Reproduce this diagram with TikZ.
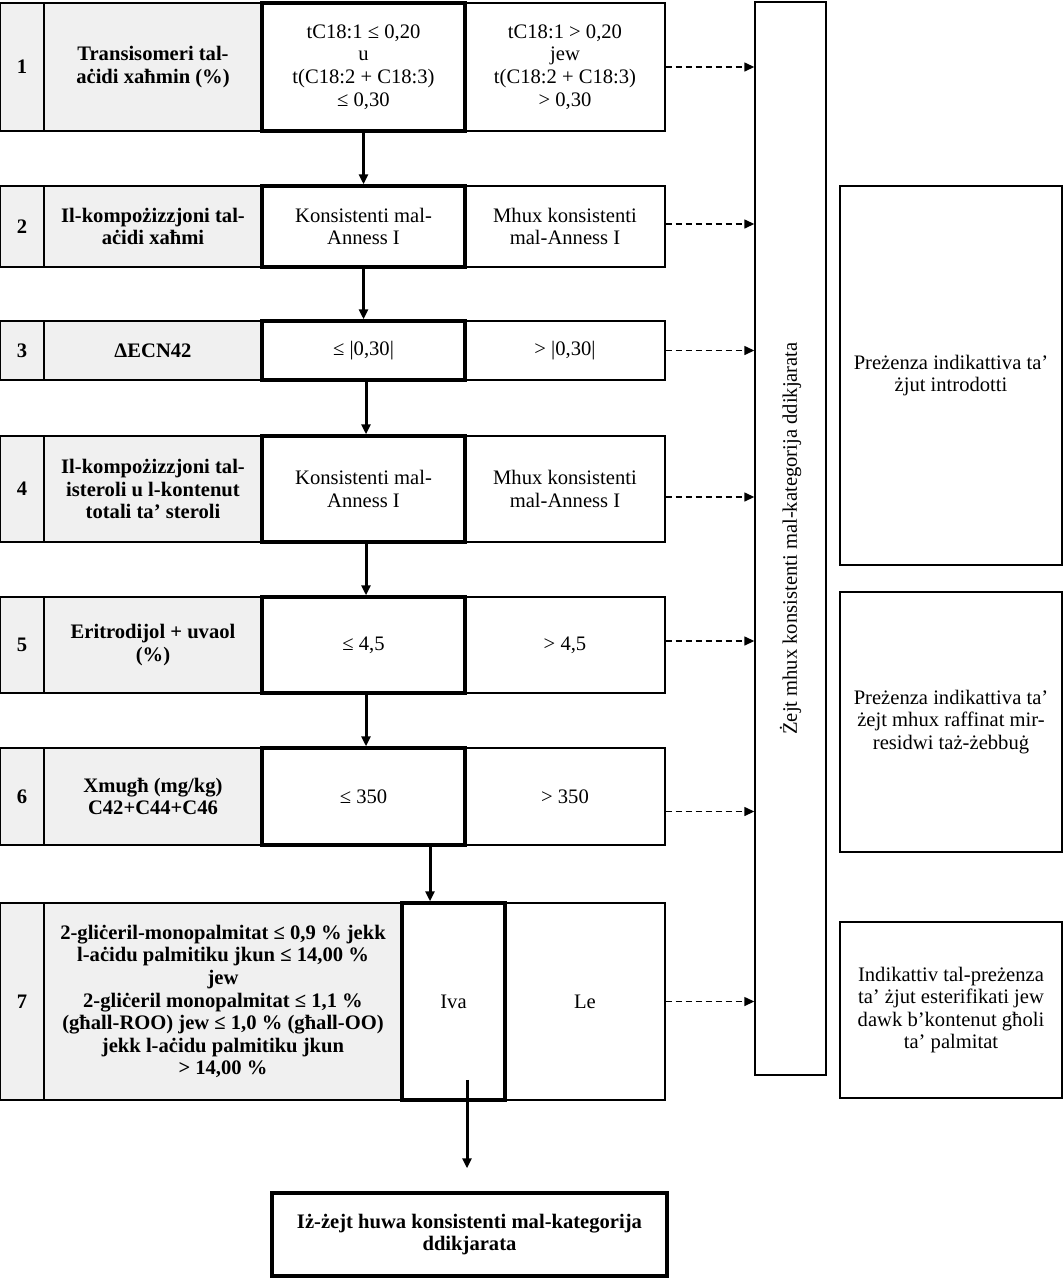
\documentclass[tikz,border=0pt]{standalone}
\usepackage{fontspec}
\setmainfont{Liberation Serif}
\usetikzlibrary{arrows.meta,positioning,calc}

\begin{document}
\begin{tikzpicture}[x=1pt,y=-1pt,>={Triangle[length=10pt,width=9pt]},
    txt/.style={font=\fontsize{20.6}{22.6}\selectfont},
    cell/.style={draw,line width=1.4pt,inner sep=2pt,align=center,txt},
    numcell/.style={cell,fill=black!6,font=\fontsize{20.6}{22.6}\selectfont\bfseries,minimum width=44pt},
    labcell/.style={cell,fill=black!6,font=\fontsize{20.6}{22.6}\selectfont\bfseries},
    passcell/.style={cell,line width=3.5pt},
    failcell/.style={cell},
    flow/.style={->,line width=3pt},
    dashflow/.style={->,line width=1.4pt,dash pattern=on 6pt off 4pt}]
    \useasboundingbox (0,0) rectangle (1063,1278);

    % row 1
    \node[numcell,minimum height=128pt] (n1) at (22,67) {1};
    \node[labcell,minimum width=218pt,minimum height=128pt] (lab1) at (153,67) {Transisomeri tal-\\aċidi xaħmin (\%)};
    \node[failcell,minimum width=200pt,minimum height=128pt] (fail1) at (565,67) {tC18:1 > 0,20\\jew\\t(C18:2 + C18:3)\\> 0,30};
    \node[passcell,minimum width=203pt,minimum height=128pt] (pass1) at (363.5,67) {tC18:1 ≤ 0,20\\u\\t(C18:2 + C18:3)\\≤ 0,30};

    % row 2
    \node[numcell,minimum height=81pt] (n2) at (22,226.5) {2};
    \node[labcell,minimum width=218pt,minimum height=81pt] (lab2) at (153,226.5) {Il-kompożizzjoni tal-\\aċidi xaħmi};
    \node[failcell,minimum width=200pt,minimum height=81pt] (fail2) at (565,226.5) {Mhux konsistenti\\mal-Anness I};
    \node[passcell,minimum width=203pt,minimum height=81pt] (pass2) at (363.5,226.5) {Konsistenti mal-\\Anness I};

    % row 3
    \node[numcell,minimum height=59pt] (n3) at (22,350.5) {3};
    \node[labcell,minimum width=218pt,minimum height=59pt] (lab3) at (153,350.5) {ΔECN42};
    \node[failcell,minimum width=200pt,minimum height=59pt] (fail3) at (565,350.5) {> |0,30|};
    \node[passcell,minimum width=203pt,minimum height=59pt] (pass3) at (363.5,350.5) {≤ |0,30|};

    % row 4
    \node[numcell,minimum height=106pt] (n4) at (22,489) {4};
    \node[labcell,minimum width=218pt,minimum height=106pt] (lab4) at (153,489) {Il-kompożizzjoni tal-\\isteroli u l-kontenut\\totali ta’ steroli};
    \node[failcell,minimum width=200pt,minimum height=106pt] (fail4) at (565,489) {Mhux konsistenti\\mal-Anness I};
    \node[passcell,minimum width=203pt,minimum height=106pt] (pass4) at (363.5,489) {Konsistenti mal-\\Anness I};

    % row 5
    \node[numcell,minimum height=96pt] (n5) at (22,645) {5};
    \node[labcell,minimum width=218pt,minimum height=96pt] (lab5) at (153,645) {Eritrodijol + uvaol\\(\%)};
    \node[failcell,minimum width=200pt,minimum height=96pt] (fail5) at (565,645) {> 4,5};
    \node[passcell,minimum width=203pt,minimum height=96pt] (pass5) at (363.5,645) {≤ 4,5};

    % row 6
    \node[numcell,minimum height=97pt] (n6) at (22,796.5) {6};
    \node[labcell,minimum width=218pt,minimum height=97pt] (lab6) at (153,796.5) {Xmugħ (mg/kg)\\C42+C44+C46};
    \node[failcell,minimum width=200pt,minimum height=97pt] (fail6) at (565,796.5) {> 350};
    \node[passcell,minimum width=203pt,minimum height=97pt] (pass6) at (363.5,796.5) {≤ 350};

    % row 7
    \node[numcell,minimum height=197pt] (n7) at (22,1001.5) {7};
    \node[labcell,minimum width=358pt,minimum height=197pt] (lab7) at (223,1001.5) {2-gliċeril-monopalmitat ≤ 0,9 \% jekk\\l-aċidu palmitiku jkun ≤ 14,00 \%\\jew\\2-gliċeril monopalmitat ≤ 1,1 \%\\(għall-ROO) jew ≤ 1,0 \% (għall-OO)\\jekk l-aċidu palmitiku jkun\\> 14,00 \%};
    \node[failcell,minimum width=160pt,minimum height=197pt] (le) at (585,1001.5) {Le};
    \node[passcell,minimum width=103pt,minimum height=197pt] (iva) at (453.5,1001.5) {Iva};

    % result and side boxes
    \node[passcell,font=\fontsize{20.6}{22.6}\selectfont\bfseries,minimum width=395pt,minimum height=83pt] (final) at (469.5,1234.5) {Iż-żejt huwa konsistenti mal-kategorija\\ddikjarata};
    \node[cell,rotate=90,minimum width=1073pt,minimum height=71pt] (notok) at (790.5,538.5) {Żejt mhux konsistenti mal-kategorija ddikjarata};
    \node[cell,minimum width=222pt,minimum height=379pt] (ind1) at (951,375.5) {Preżenza indikattiva ta’\\żjut introdotti};
    \node[cell,minimum width=222pt,minimum height=260pt] (ind2) at (951,722) {Preżenza indikattiva ta’\\żejt mhux raffinat mir-\\residwi taż-żebbuġ};
    \node[cell,minimum width=222pt,minimum height=176pt] (ind3) at (951,1010) {Indikattiv tal-preżenza\\ta’ żjut esterifikati jew\\dawk b’kontenut għoli\\ta’ palmitat};

    % main path
    \draw[flow] (pass1) -- (pass2);
    \draw[flow] (pass2) -- (pass3);
    \draw[flow] ([xshift=2.5pt]pass3.south) -- ([xshift=2.5pt]pass4.north);
    \draw[flow] ([xshift=2.5pt]pass4.south) -- ([xshift=2.5pt]pass5.north);
    \draw[flow] ([xshift=2.5pt]pass5.south) -- ([xshift=2.5pt]pass6.north);
    \draw[flow] ([xshift=66.5pt]pass6.south) -- ([xshift=-23.5pt]iva.north);
    \draw[flow] ([xshift=13.5pt,yshift=22pt]iva.south) -- ([xshift=-2.5pt,yshift=23pt]final.north);

    % rejected
    \draw[dashflow] (fail1.east) -- (fail1.east -| notok.north);
    \draw[dashflow] ([yshift=2.5pt]fail2.east) -- ([yshift=2.5pt]fail2.east -| notok.north);
    \draw[dashflow] (fail3.east) -- (fail3.east -| notok.north);
    \draw[dashflow] ([yshift=-8pt]fail4.east) -- ([yshift=-8pt]fail4.east -| notok.north);
    \draw[dashflow] ([yshift=4pt]fail5.east) -- ([yshift=4pt]fail5.east -| notok.north);
    \draw[dashflow] ([yshift=-15pt]fail6.east) -- ([yshift=-15pt]fail6.east -| notok.north);
    \draw[dashflow] (le.east) -- (le.east -| notok.north);
\end{tikzpicture}
\end{document}
